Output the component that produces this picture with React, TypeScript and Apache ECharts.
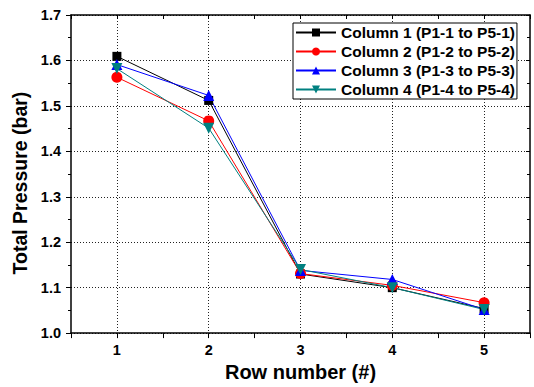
import React, { useEffect, useRef } from "react";
import * as echarts from "echarts";

const rows = [1, 2, 3, 4, 5];
const col1 = [1.609, 1.512, 1.130, 1.100, 1.054];
const col2 = [1.563, 1.467, 1.131, 1.105, 1.067];
const col3 = [1.591, 1.523, 1.138, 1.118, 1.052];
const col4 = [1.582, 1.451, 1.140, 1.100, 1.052];
const seriesNames = [
  "Column 1 (P1-1 to P5-1)",
  "Column 2 (P1-2 to P5-2)",
  "Column 3 (P1-3 to P5-3)",
  "Column 4 (P1-4 to P5-4)",
];

const FONT = "'Liberation Sans', Arial, sans-serif";

export default function App() {
  const ref = useRef<HTMLDivElement>(null);
  useEffect(() => {
    document.body.style.margin = "0";
    const chart = echarts.init(ref.current!, undefined, { renderer: "svg" });
    const mk = (name: string, data: number[], color: string, symbol: string, size: number, rot = 0) => ({
      name,
      type: "line",
      data: rows.map((r, i) => [r, data[i]]),
      xAxisIndex: 0,
      yAxisIndex: 0,
      symbol,
      symbolSize: size,
      symbolRotate: rot,
      showSymbol: true,
      lineStyle: { color, width: 1 },
      itemStyle: { color },
      z: 3,
    });
    const dotted = { type: [1, 2] as any, color: "#222", width: 1 };
    chart.setOption({
      animation: false,
      backgroundColor: "#fff",
      grid: { left: 71, right: 4, top: 15, bottom: 51, containLabel: false },
      legend: {
        show: true,
        orient: "vertical",
        left: 293,
        top: 23,
        backgroundColor: "#fff",
        borderColor: "#000",
        borderWidth: 1,
        padding: [1.5, 2, 1.5, 2],
        itemGap: 3,
        itemWidth: 40,
        itemHeight: 10,
        textStyle: { fontFamily: FONT, fontWeight: "bold", fontSize: 15.5, lineHeight: 16, color: "#000" },
        data: seriesNames,
      },
      xAxis: [
        {
          type: "value",
          min: 0.5,
          max: 5.5,
          interval: 0.5,
          position: "bottom",
          name: "Row number (#)",
          nameLocation: "middle",
          nameGap: 26,
          nameTextStyle: { fontFamily: FONT, fontWeight: "bold", fontSize: 20, color: "#000" },
          axisLine: { show: true, onZero: false, lineStyle: { color: "#000", width: 1.5 } },
          axisTick: { show: true, inside: false, length: 5, lineStyle: { color: "#000", width: 1 } },
          axisLabel: {
            margin: 9,
            fontFamily: FONT,
            fontWeight: "bold",
            fontSize: 14.5,
            color: "#000",
            formatter: (v: number) => (Number.isInteger(v) ? String(v) : ""),
          },
          splitLine: { show: true, lineStyle: { ...dotted, color: ["rgba(0,0,0,0)", "#222"] } },
        },
        {
          type: "value",
          min: 0.5,
          max: 5.5,
          interval: 0.5,
          position: "top",
          axisLine: { show: true, onZero: false, lineStyle: { color: "#000", width: 1.5 } },
          axisTick: { show: true, inside: true, length: 4, lineStyle: { color: "#000", width: 1 } },
          axisLabel: { show: false },
          splitLine: { show: false },
        },
      ],
      yAxis: [
        {
          type: "value",
          min: 1.0,
          max: 1.7,
          interval: 0.1,
          position: "left",
          name: "Total Pressure (bar)",
          nameLocation: "middle",
          nameGap: 38,
          nameTextStyle: {
            fontFamily: FONT,
            fontWeight: "bold",
            fontSize: 19.5,
            color: "#000",
            padding: [0, 18, 0, 0],
          },
          axisLine: { show: true, onZero: false, lineStyle: { color: "#000", width: 1.5 } },
          axisTick: { show: true, inside: false, length: 5, lineStyle: { color: "#000", width: 1 } },
          minorTick: { show: true, splitNumber: 2, length: 3, lineStyle: { color: "#000", width: 1 } },
          axisLabel: {
            margin: 10,
            fontFamily: FONT,
            fontWeight: "bold",
            fontSize: 14.5,
            color: "#000",
            formatter: (v: number) => v.toFixed(1),
          },
          splitLine: { show: true, lineStyle: dotted },
        },
        {
          type: "value",
          min: 1.0,
          max: 1.7,
          interval: 0.1,
          position: "right",
          axisLine: { show: true, onZero: false, lineStyle: { color: "#000", width: 1.5 } },
          axisTick: { show: true, inside: true, length: 4, lineStyle: { color: "#000", width: 1 } },
          minorTick: { show: true, splitNumber: 2, length: 3, lineStyle: { color: "#000", width: 1 } },
          axisLabel: { show: false },
          splitLine: { show: false },
        },
      ],
      series: [
        mk(seriesNames[0], col1, "#000000", "rect", 9),
        mk(seriesNames[1], col2, "#ff0000", "circle", 11),
        mk(seriesNames[2], col3, "#0000ff", "triangle", 11),
        mk(seriesNames[3], col4, "#008080", "triangle", 11, 180),
      ],
    });
    return () => chart.dispose();
  }, []);
  return <div ref={ref} style={{ width: 534, height: 387 }} />;
}
